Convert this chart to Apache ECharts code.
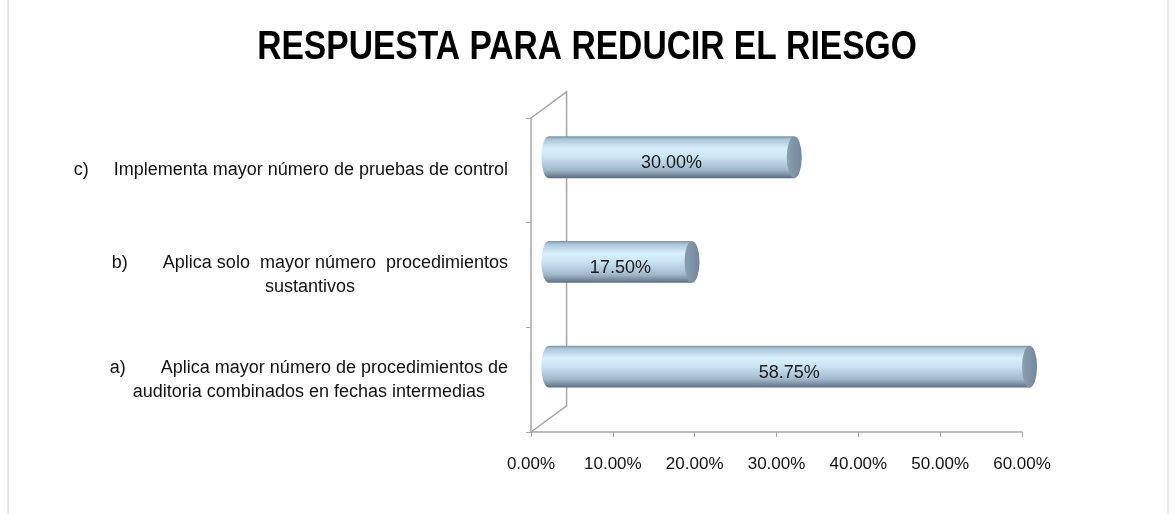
<!DOCTYPE html>
<html>
<head>
<meta charset="utf-8">
<script src="https://cdn.jsdelivr.net/npm/echarts@6/dist/echarts.min.js"></script>
<style>
  html, body { margin: 0; padding: 0; background: #fff; }
  #main { width: 1175px; height: 514px; }
</style>
</head>
<body>
<div id="main"></div>
<script>
// categories, bottom to top
var categories = [
    'a)       Aplica mayor número de procedimientos de\nauditoria combinados en fechas intermedias',
    'b)       Aplica solo  mayor número  procedimientos\nsustantivos',
    'c)     Implementa mayor número de pruebas de control'
];
var values = [58.75, 17.5, 30];
var xTicks = [0, 10, 20, 30, 40, 50, 60];
var titleText = 'RESPUESTA PARA REDUCIR EL RIESGO';

var myChart = echarts.init(document.getElementById('main'));

var barData = values.map(function (v, i) { return [v, i]; });
var font = '"Liberation Sans", Arial, sans-serif';

function renderCylinder(params, api) {
    var v = api.value(0), cat = api.value(1);
    var p0 = api.coord([0, cat]);
    var p1 = api.coord([v, cat]);
    var band = api.size([0, 1])[1];
    var h = band * 0.4;
    var dx = band * 0.17, dy = band * 0.125;
    var x0 = p0[0] + dx, x1 = p1[0] + dx, yc = p0[1] - dy;
    var rx = 7.5, ry = h / 2;
    var top = yc - ry, bot = yc + ry;
    var body = 'M' + x0 + ' ' + top + ' L' + x1 + ' ' + top + ' L' + x1 + ' ' + bot +
        ' L' + x0 + ' ' + bot + ' A' + rx + ' ' + ry + ' 0 0 1 ' + x0 + ' ' + top + ' Z';
    var cap = 'M' + x1 + ' ' + top + ' A' + rx + ' ' + ry + ' 0 0 1 ' + x1 + ' ' + bot +
        ' A' + rx + ' ' + ry + ' 0 0 1 ' + x1 + ' ' + top + ' Z';
    return {
        type: 'group',
        children: [
            {
                type: 'path',
                shape: { pathData: body },
                style: {
                    fill: new echarts.graphic.LinearGradient(0, 0, 0, 1, [
                        { offset: 0, color: '#7d91a3' },
                        { offset: 0.07, color: '#abc5d8' },
                        { offset: 0.3, color: '#d8f1fd' },
                        { offset: 0.5, color: '#c9e3f3' },
                        { offset: 0.8, color: '#a2b9cb' },
                        { offset: 0.94, color: '#72869a' },
                        { offset: 1, color: '#5a6b7c' }
                    ])
                }
            },
            {
                type: 'path',
                shape: { pathData: cap },
                style: {
                    fill: new echarts.graphic.LinearGradient(0, 0, 1, 0, [
                        { offset: 0, color: '#8a9fb1' },
                        { offset: 1, color: '#72879a' }
                    ])
                }
            },
            {
                type: 'text',
                style: {
                    text: v.toFixed(2) + '%',
                    x: (x0 + x1) / 2,
                    y: yc + 6,
                    align: 'center',
                    verticalAlign: 'middle',
                    fill: '#1a1a1a',
                    font: '18px ' + font
                }
            }
        ]
    };
}

function renderWall(params, api) {
    var cs = params.coordSys;
    var band = api.size([0, 1])[1];
    var dx = band * 0.34, dy = band * 0.25;
    return {
        type: 'polyline',
        shape: {
            points: [
                [cs.x, cs.y],
                [cs.x + dx, cs.y - dy],
                [cs.x + dx, cs.y + cs.height - dy],
                [cs.x, cs.y + cs.height]
            ]
        },
        style: { stroke: '#a6a6a6', lineWidth: 1.5, fill: null }
    };
}

var option = {
    animation: false,
    graphic: [
        {
            type: 'rect',
            shape: { x: 8, y: -2, width: 1160, height: 520 },
            style: { fill: null, stroke: '#d0d0d0', lineWidth: 1 },
            silent: true
        },
        {
            // condensed bold title
            type: 'text',
            x: 587,
            y: 48,
            scaleX: 0.84,
            style: {
                text: titleText,
                align: 'center',
                verticalAlign: 'middle',
                fill: '#000',
                font: 'bold 40px ' + font
            },
            silent: true
        }
    ],
    grid: { left: 531, right: 153, top: 118, bottom: 82 },
    xAxis: {
        type: 'value',
        min: xTicks[0],
        max: xTicks[xTicks.length - 1],
        interval: 10,
        splitLine: { show: false },
        axisLine: { show: true, lineStyle: { color: '#a6a6a6', width: 1.5 } },
        axisTick: { show: true, length: 5, lineStyle: { color: '#a6a6a6' } },
        axisLabel: {
            margin: 24,
            color: '#111',
            fontSize: 17,
            fontFamily: font,
            formatter: function (v) { return v.toFixed(2) + '%'; }
        }
    },
    yAxis: {
        type: 'category',
        data: categories,
        axisLine: { show: true, lineStyle: { color: '#a6a6a6', width: 1.5 } },
        axisTick: { show: true, length: 5, lineStyle: { color: '#a6a6a6' } },
        axisLabel: {
            align: 'right',
            margin: 23,
            color: '#111',
            fontSize: 18,
            lineHeight: 24,
            fontFamily: font,
            formatter: function (s) {
                return s.split('\n').map(function (l) { return '{c|' + l + '}'; }).join('\n');
            },
            rich: {
                c: {
                    align: 'center',
                    fontSize: 18,
                    lineHeight: 24,
                    color: '#111',
                    fontFamily: font
                }
            }
        }
    },
    series: [
        {
            name: 'wall',
            type: 'custom',
            renderItem: renderWall,
            data: [[0, 0]],
            encode: { x: 0, y: 1 },
            z: 1,
            silent: true
        },
        {
            name: 'Respuesta',
            type: 'custom',
            renderItem: renderCylinder,
            data: barData,
            encode: { x: 0, y: 1 },
            z: 3
        }
    ]
};

myChart.setOption(option);
</script>
</body>
</html>
